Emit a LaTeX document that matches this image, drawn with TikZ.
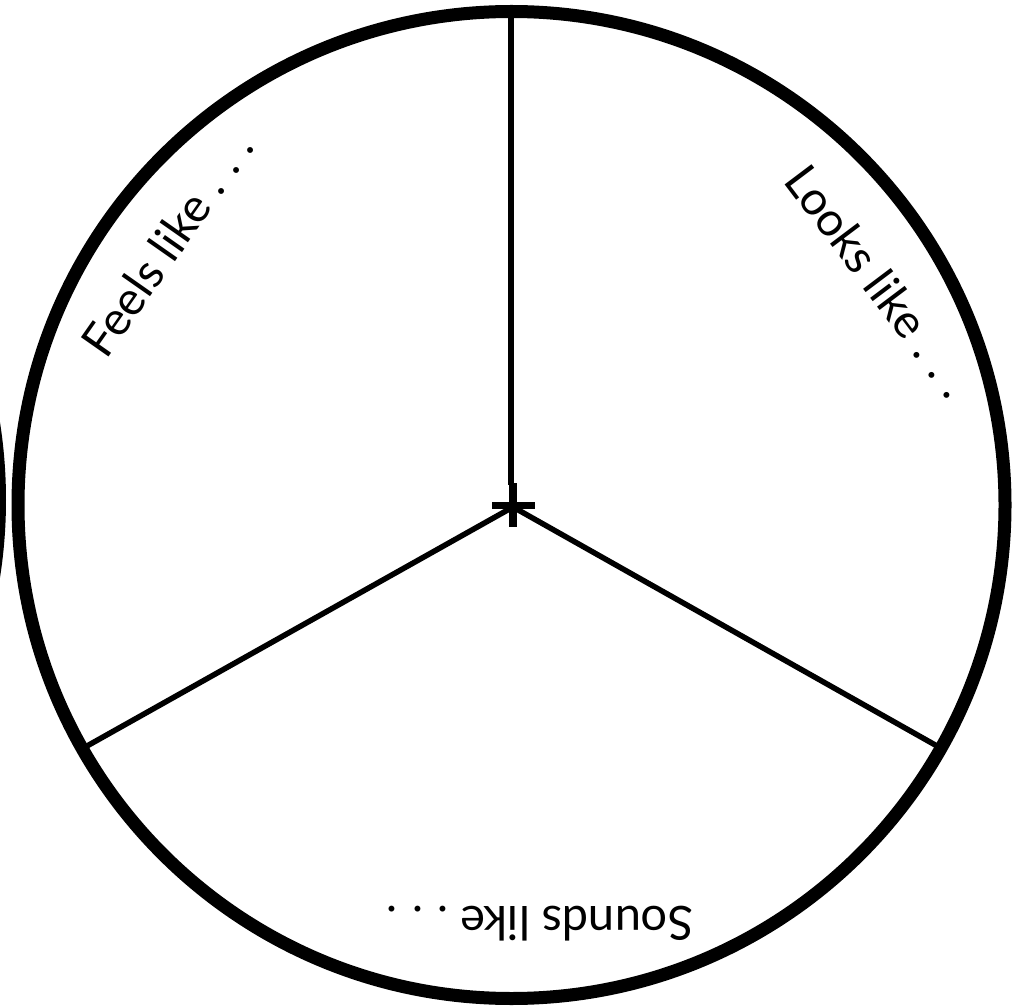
\documentclass[tikz,border=0pt]{standalone}
\usepackage{fontspec}
\setmainfont{Lato}
\newcommand\spdots{.\kern0.3em.\kern0.3em.}
\begin{document}
\begin{tikzpicture}[x=1pt,y=-1pt,
  rim/.style={line width=13pt},
  spoke/.style={line width=5.5pt},
  bar/.style={line width=7pt},
  lbl/.style={inner sep=0pt,font=\fontsize{47}{54}\selectfont}]
\useasboundingbox (0,0) rectangle (1026,1008);
\clip (0,0) rectangle (1026,1008);
\fill[white] (0,0) rectangle (1026,1008);
% outer circles
\coordinate (C) at (511.5,505);
\coordinate (C2) at (-494,500);
\draw[rim] (C) circle (493.5);
\draw[rim] (C2) circle (493.5);
% spokes
\coordinate (O) at (513,507);
\coordinate (T) at (511,14);
\coordinate (L) at (87,746);
\coordinate (R) at (937,746);
\draw[line width=6.5pt] (T) -- (511,485);
\draw[spoke] (O) -- (L);
\draw[spoke] (O) -- (R);
% centre cross
\coordinate (H1) at (492,505);
\coordinate (H2) at (535,505);
\coordinate (V1) at (513,483);
\coordinate (V2) at (513,527);
\draw[bar] (H1) -- (H2);
\draw[line width=8pt] (V1) -- (V2);
% labels
\node[lbl,rotate=55] (feels) at (167,244) {Feels like \spdots};
\node[lbl,rotate=-53] (looks) at (879,281) {Looks like \spdots};
\node[lbl,rotate=180] (sounds) at (540,924) {Sounds like \spdots};
\end{tikzpicture}
\end{document}
